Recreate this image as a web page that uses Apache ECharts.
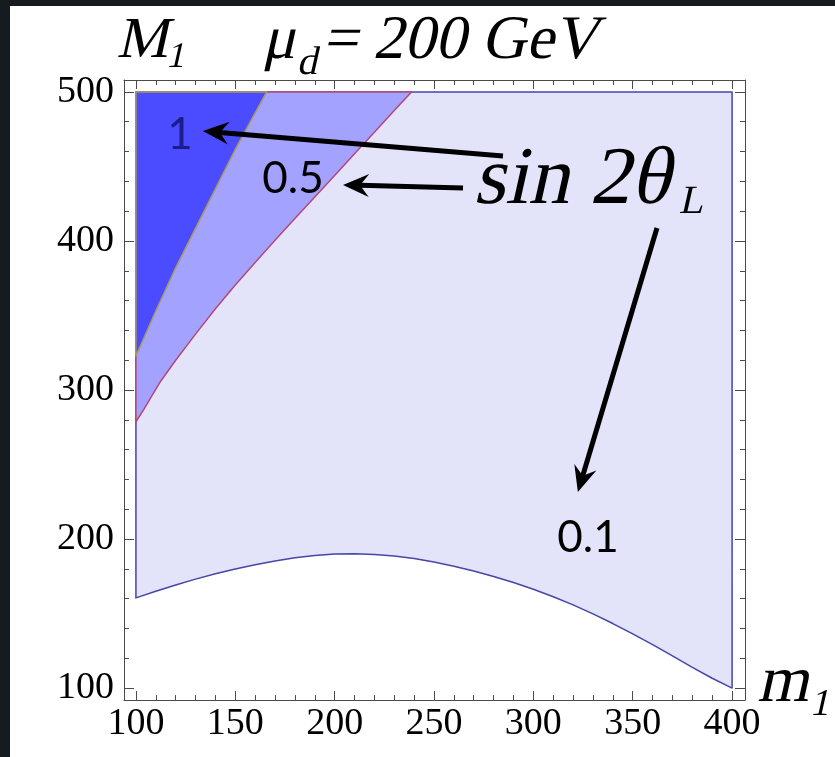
<!DOCTYPE html>
<html>
<head>
<meta charset="utf-8">
<script src="https://cdn.jsdelivr.net/npm/echarts@6/dist/echarts.min.js"></script>
<style>
html,body{margin:0;padding:0;background:#fff;}
#chart{width:835px;height:757px;}
</style>
</head>
<body>
<div id="chart"></div>
<script>
// ---- data ----
const xTicksMajor = [100, 150, 200, 250, 300, 350, 400];
const xTicksMinor = [110,120,130,140,160,170,180,190,210,220,230,240,260,270,280,290,310,320,330,340,360,370,380,390];
const yTicksMajor = [100, 200, 300, 400, 500];
const yTicksMinor = [120,140,160,180,220,240,260,280,320,340,360,380,420,440,460,480];

// lower boundary of sin2θ = 0.1 region
const c01X = [100, 110, 120, 130, 140, 150, 160, 170, 180, 190, 200, 210, 220, 230, 240, 250, 260, 270, 280, 290, 300, 310, 320, 330, 340, 350, 360, 370, 380, 390, 400];
const c01Y = [160.5, 165.0, 169.2, 173.1, 176.7, 179.9, 182.8, 185.3, 187.4, 189.0, 190.0, 190.2, 189.7, 188.6, 186.9, 184.6, 181.8, 178.6, 174.9, 170.8, 166.3, 161.3, 155.8, 149.8, 143.3, 136.4, 129.2, 121.6, 113.9, 106.6, 100];
// boundary of sin2θ = 0.5 region
const c05X = [100, 104, 108, 112, 120, 130, 140, 150, 160, 170, 180, 190, 200, 210, 220, 230, 238.7];
const c05Y = [278.7, 287, 296, 305, 320, 337.5, 354.5, 370.5, 385.5, 400.5, 415, 429.5, 444, 458.5, 473, 487.5, 500];
// boundary of sin2θ = 1 region
const c10X = [100, 110, 120, 130, 140, 150, 160, 165.8];
const c10Y = [322.8, 353, 382, 408.5, 435, 461.5, 486, 500];

// annotation arrows: [tailX, tailY, headX, headY] in data units
const arrows = [
  [284.7, 457, 133.7, 473.8],
  [264.6, 435.6, 204.2, 437.6],
  [362.2, 408.7, 322.4, 231.5]
];

// ---- build polygons ----
function zip(xs, ys){ return xs.map((x,i)=>[x, ys[i]]); }
const poly01 = [[100,500],[400,500]].concat(zip(c01X,c01Y).reverse());
const poly05 = [[100,500]].concat(zip(c05X,c05Y).reverse());
const poly10 = [[100,500]].concat(zip(c10X,c10Y).reverse());

const chart = echarts.init(document.getElementById('chart'), null, {renderer:'canvas'});

const serif = "Liberation Serif";
const sans = "Lato";
const frameColor = '#4a4a4a';
const xMin = 94, xMax = 406.5, yMin = 92, yMax = 508;

function xAxisDef(pos, major, showLine, showLabel){
  return {
    type:'value', position:pos, min:xMin, max:xMax, gridIndex:0,
    axisLine:{show:showLine, onZero:false, lineStyle:{color:frameColor, width:1}},
    axisTick:{show:true, inside:true, length: major ? 9 : 5, customValues: major ? xTicksMajor : xTicksMinor, lineStyle:{color:frameColor, width:1}},
    axisLabel:{show:showLabel, customValues:xTicksMajor, fontFamily:serif, fontSize:38, color:'#000', margin:5, formatter:v=>String(Math.round(v))},
    splitLine:{show:false}
  };
}
function yAxisDef(pos, major, showLine, showLabel){
  return {
    type:'value', position:pos, min:yMin, max:yMax, gridIndex:0,
    axisLine:{show:showLine, onZero:false, lineStyle:{color:frameColor, width:1}},
    axisTick:{show:true, inside:true, length: major ? 10 : 5, customValues: major ? yTicksMajor : yTicksMinor, lineStyle:{color:frameColor, width:1}},
    axisLabel:{show:showLabel, customValues:yTicksMajor, fontFamily:serif, fontSize:38, color:'#000', margin:10, formatter:v=>String(Math.round(v))},
    splitLine:{show:false}
  };
}

function polySeries(pts, fill, stroke, z){
  return {
    type:'custom', xAxisIndex:0, yAxisIndex:0, z:z, silent:true,
    data:[[pts[0][0], pts[0][1]]],
    renderItem:function(params, api){
      const points = pts.map(p=>api.coord(p));
      return {type:'polygon', shape:{points:points}, style:{fill:fill, stroke:stroke, lineWidth:1.5, lineJoin:'round'}};
    }
  };
}

const arrowSeries = {
  type:'custom', xAxisIndex:0, yAxisIndex:0, z:10, silent:true,
  data: arrows,
  encode:{x:[0,2], y:[1,3]},
  renderItem:function(params, api){
    const t = api.coord([api.value(0), api.value(1)]);
    const h = api.coord([api.value(2), api.value(3)]);
    const dx = h[0]-t[0], dy = h[1]-t[1];
    const len = Math.sqrt(dx*dx+dy*dy);
    const ux = dx/len, uy = dy/len, px = -uy, py = ux;
    const L = 26, W = 23, N = 17;
    const bx = h[0]-ux*L, by = h[1]-uy*L;
    const nx = h[0]-ux*N, ny = h[1]-uy*N;
    return {type:'group', children:[
      {type:'line', shape:{x1:t[0], y1:t[1], x2:nx, y2:ny}, style:{stroke:'#000', lineWidth:5}},
      {type:'polygon', shape:{points:[[h[0],h[1]],[bx+px*W/2, by+py*W/2],[nx,ny],[bx-px*W/2, by-py*W/2]]}, style:{fill:'#000'}}
    ]};
  }
};

function txt(x, y, text, family, size, fill, align){
  return {type:'text', x:x, y:y, z:100, silent:true,
    style:{text:text, fontFamily:family, fontSize:size, fill:fill||'#000', align:align||'left', verticalAlign:'middle'}};
}

const option = {
  backgroundColor:'#ffffff',
  animation:false,
  grid:{left:124, right:90, top:80, bottom:57, containLabel:false},
  xAxis:[
    xAxisDef('bottom', true, true, true),
    xAxisDef('bottom', false, false, false),
    xAxisDef('top', true, true, false),
    xAxisDef('top', false, false, false)
  ],
  yAxis:[
    yAxisDef('left', true, true, true),
    yAxisDef('left', false, false, false),
    yAxisDef('right', true, true, false),
    yAxisDef('right', false, false, false)
  ],
  series:[
    polySeries(poly01, '#e3e3fa', '#4646a8', 2),
    polySeries(poly05, '#a3a3ff', '#b5487a', 3),
    polySeries(poly10, '#4b4bff', '#a69a5e', 4),
    arrowSeries
  ],
  graphic:[
    {type:'rect', shape:{x:0, y:0, width:835, height:6}, style:{fill:'#161b20'}, z:100, silent:true},
    {type:'rect', shape:{x:0, y:0, width:10, height:757}, style:{fill:'#161b20'}, z:100, silent:true},
    txt(180, 135, '1', sans, 44, '#1c1c8a', 'center'),
    txt(293, 179, '0.5', sans, 44, '#000', 'center'),
    txt(588, 538, '0.1', sans, 44, '#000', 'center')
  ]
};
chart.setOption(option);

// slanted serif math text (upright Liberation Serif with a skew transform)
const zr = chart.getZr();
function mtxt(x, y, text, size){
  const el = new echarts.graphic.Text({
    x:x, y:y, skewX:-0.22, z:100, silent:true,
    style:{text:text, font: size + "px 'Liberation Serif', serif", fontFamily:"'Liberation Serif', serif", fontSize:size,
           fill:'#000', align:'left', verticalAlign:'middle'}
  });
  zr.add(el);
}
mtxt(120, 42, 'M', 58);
mtxt(168, 58, '1', 36);
mtxt(266, 42, 'μ', 62);
mtxt(299, 63, 'd', 40);
mtxt(326, 42, '= 200 GeV', 62);
mtxt(478, 181, 'sin 2θ', 82);
mtxt(681, 202, 'L', 40);
mtxt(761, 684, 'm', 66);
mtxt(812, 705, '1', 38);
</script>
</body>
</html>
